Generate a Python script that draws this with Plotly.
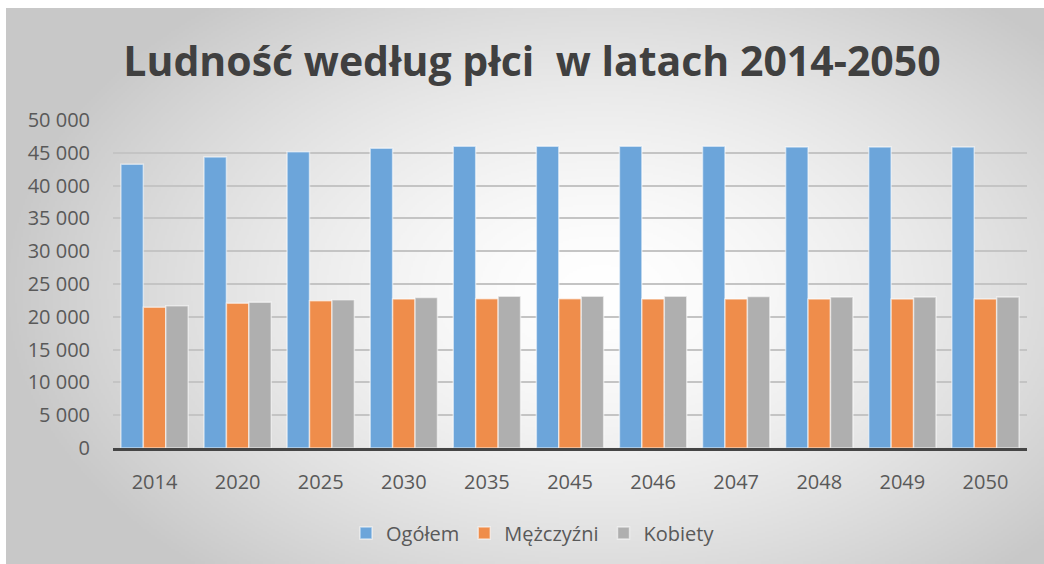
import base64
import struct
import zlib

import numpy as np
import plotly.graph_objects as go

# ---- data -------------------------------------------------------------
years = ["2014", "2020", "2025", "2030", "2035", "2045", "2046", "2047", "2048", "2049", "2050"]
ogolem = [43250, 44360, 45170, 45690, 45990, 45990, 45990, 45990, 45880, 45880, 45880]
mezczyzni = [21450, 22060, 22460, 22710, 22760, 22760, 22710, 22710, 22710, 22710, 22710]
kobiety = [21700, 22210, 22610, 22950, 23120, 23120, 23120, 23080, 23020, 23020, 23020]

series_names = ["Ogółem", "Mężczyźni", "Kobiety"]
series_colors = ["#6CA5DA", "#EF8D4B", "#AFAFAF"]

W, H = 1044, 564
PL, PR, PT, PB = 113, 17, 120, 116  # plot-area margins in px
PW, PH = W - PL - PR, H - PT - PB


def png_uri(rgb):
    """Encode an HxWx3 uint8 array as a PNG data URI."""
    h, w, _ = rgb.shape
    raw = b"".join(b"\x00" + rgb[r].tobytes() for r in range(h))

    def chunk(tag, data):
        c = struct.pack(">I", len(data)) + tag + data
        return c + struct.pack(">I", zlib.crc32(tag + data) & 0xFFFFFFFF)

    png = b"\x89PNG\r\n\x1a\n"
    png += chunk(b"IHDR", struct.pack(">IIBBBBB", w, h, 8, 2, 0, 0, 0))
    png += chunk(b"IDAT", zlib.compress(raw, 9))
    png += chunk(b"IEND", b"")
    return "data:image/png;base64," + base64.b64encode(png).decode()


# radial white-to-grey chart background
bx0, by0 = 6, 8
bw, bh = W - bx0, H - by0
gw, gh = bw // 2, bh // 2
xs = (np.arange(gw) + 0.5) * bw / gw + bx0
ys = (np.arange(gh) + 0.5) * bh / gh + by0
X, Y = np.meshgrid(xs, ys)
d = np.sqrt(((X - 600) / 600) ** 2 + ((Y - 290) / 380) ** 2)
v = 255 - 55 * np.clip(d, 0, 1) ** 1.5
img = np.repeat(np.clip(v, 0, 255).astype(np.uint8)[:, :, None], 3, axis=2)
bg_uri = png_uri(img)

fig = go.Figure()
for name, vals, col in zip(series_names, [ogolem, mezczyzni, kobiety], series_colors):
    fig.add_trace(go.Bar(
        x=years, y=vals, name=name,
        marker=dict(color=col, line=dict(color="rgba(255,255,255,0.55)", width=1.5)),
    ))

font_family = "Open Sans, Lato, sans-serif"

fig.add_layout_image(
    source=bg_uri, xref="paper", yref="paper",
    x=(bx0 - PL) / PW, y=(H - PB - by0) / PH,
    sizex=bw / PW, sizey=bh / PH,
    xanchor="left", yanchor="top", sizing="stretch", layer="below",
)

fig.update_layout(
    width=W, height=H,
    margin=dict(l=PL, r=PR, t=PT, b=PB),
    paper_bgcolor="white", plot_bgcolor="rgba(0,0,0,0)",
    barmode="group", bargap=0.19, bargroupgap=0.0,
    separators=", ",
    font=dict(family=font_family, color="#595959", size=20),
    title=dict(
        text="<b>Ludność według płci  w latach 2014-2050</b>",
        x=(532 - PL) / PW, xref="paper", xanchor="center",
        y=(H - 62) / H, yref="container", yanchor="middle",
        font=dict(family=font_family, size=41, color="#404040"),
    ),
    legend=dict(
        orientation="h", x=(533 - PL) / PW, xanchor="center",
        y=(H - PB - 533) / PH, yanchor="middle",
        font=dict(size=20, color="#595959"), bgcolor="rgba(0,0,0,0)",
        itemclick=False,
    ),
    showlegend=True,
    xaxis=dict(
        showgrid=False, showline=True, linecolor="#454545", linewidth=3,
        ticks="", ticklabelstandoff=14, tickfont=dict(size=20, color="#595959"),
    ),
    yaxis=dict(
        range=[0, 50000], dtick=5000, tickformat=",d",
        showgrid=True, gridcolor="#C4C4C4", gridwidth=1.5,
        zeroline=False, showline=False, ticks="",
        ticklabelstandoff=22, tickfont=dict(size=20, color="#595959"),
    ),
)

fig.write_html("out.html")
